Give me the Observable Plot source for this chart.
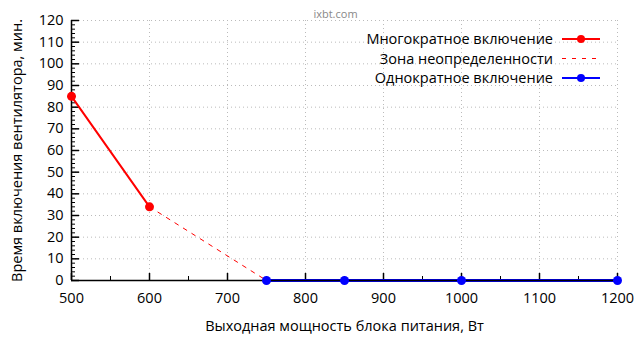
<!DOCTYPE html>
<html><head><meta charset="utf-8">
<script src="https://cdn.jsdelivr.net/npm/d3@7"></script>
<script src="https://cdn.jsdelivr.net/npm/@observablehq/plot@0.6"></script>
<style>body{margin:0;background:#fff;} svg{font-family:"Open Sans",sans-serif;}</style>
</head><body><div id="chart"></div>
<script>
const powerMulti = [500, 600];
const timeMulti = [85, 34];
const powerZone = [600, 750];
const timeZone = [34, 0];
const powerSingle = [750, 850, 1000, 1200];
const timeSingle = [0, 0, 0, 0];
const xTicks = [500, 600, 700, 800, 900, 1000, 1100, 1200];
const xMinor = [550, 650, 750, 850, 950, 1050, 1150];
const yTicks = [0, 10, 20, 30, 40, 50, 60, 70, 80, 90, 100, 110, 120];
const yMinor = d3.range(0, 121, 2).filter(v => v % 10 !== 0);
const legendLabels = ["Многократное включение", "Зона неопределенности", "Однократное включение"];
const seriesColors = ["#ff0000", "#ff0000", "#0000ff"];
const title = "ixbt.com";
const xTitle = "Выходная мощность блока питания, Вт";
const yTitle = "Время включения вентилятора, мин.";

const multi = powerMulti.map((p, i) => ({p, t: timeMulti[i]}));
const zone = powerZone.map((p, i) => ({p, t: timeZone[i]}));
const single = powerSingle.map((p, i) => ({p, t: timeSingle[i]}));

const grid = {stroke: "#bbb", strokeOpacity: 1, strokeDasharray: "1,3", strokeWidth: 1};
const fs = 14.5;

const chart = Plot.plot({
  width: 640, height: 360,
  marginLeft: 71, marginRight: 23, marginTop: 20, marginBottom: 80,
  x: {domain: [500, 1200]},
  y: {domain: [0, 120]},
  style: {fontFamily: "'Open Sans', sans-serif", fontSize: fs + "px", color: "#000"},
  marks: [
    Plot.ruleY(yTicks.filter(v => v > 0), {y: d => d, ...grid}),
    Plot.ruleX(xTicks.filter(v => v > 500), {x: d => d, ...grid}),
    Plot.axisY({ticks: yTicks, tickSize: 0, tickPadding: 8, label: null, fontSize: fs, tickFormat: d => String(d)}),
    Plot.axisY({ticks: yTicks, tickSize: -8, text: null, label: null, strokeWidth: 1.5}),
    Plot.axisY({ticks: yMinor, tickSize: -4, text: null, label: null, strokeWidth: 1}),
    Plot.axisX({ticks: xTicks, tickSize: 0, tickPadding: 12, label: null, fontSize: fs, tickFormat: d => String(d)}),
    Plot.axisX({ticks: xTicks, tickSize: -7, text: null, label: null, strokeWidth: 1.5}),
    Plot.axisX({ticks: xMinor, tickSize: -4, text: null, label: null, strokeWidth: 1}),
    Plot.line(zone, {x: "p", y: "t", stroke: seriesColors[1], strokeWidth: 1, strokeDasharray: "4,6"}),
    Plot.line(multi, {x: "p", y: "t", stroke: seriesColors[0], strokeWidth: 2}),
    Plot.line(single, {x: "p", y: "t", stroke: seriesColors[2], strokeWidth: 3}),
    Plot.ruleY([0], {stroke: "#000", strokeWidth: 1.5}),
    Plot.ruleX([500], {stroke: "#000", strokeWidth: 1.5}),
    Plot.dot(multi, {x: "p", y: "t", fill: seriesColors[0], r: 4.5}),
    Plot.dot(single, {x: "p", y: "t", fill: seriesColors[2], r: 4.5}),
    Plot.text([xTitle], {text: d => d, frameAnchor: "bottom", dy: 50, fontSize: fs}),
    Plot.text([yTitle], {text: d => d, frameAnchor: "left", textAnchor: "middle", dx: -54, rotate: -90, fontSize: fs}),
    Plot.text([title], {text: d => d, frameAnchor: "top", dy: -10, dx: -9, fontSize: 11, fill: "#888"})
  ]
});
document.getElementById("chart").appendChild(chart);

// legend
const svg = d3.select(chart);
const lg = svg.append("g").attr("font-size", fs);
legendLabels.forEach((lab, i) => {
  const y = 39 + i * 19.5;
  lg.append("text").attr("x", 553).attr("y", y).attr("dy", "0.35em").attr("text-anchor", "end").attr("fill", "#000").text(lab);
  const line = lg.append("line").attr("x1", 562).attr("x2", 600).attr("y1", y).attr("y2", y).attr("stroke", seriesColors[i]);
  if (i === 1) line.attr("stroke-width", 1).attr("stroke-dasharray", "4,6");
  else {
    line.attr("stroke-width", 2);
    lg.append("circle").attr("cx", 581).attr("cy", y).attr("r", 4).attr("fill", seriesColors[i]);
  }
});
</script></body></html>
